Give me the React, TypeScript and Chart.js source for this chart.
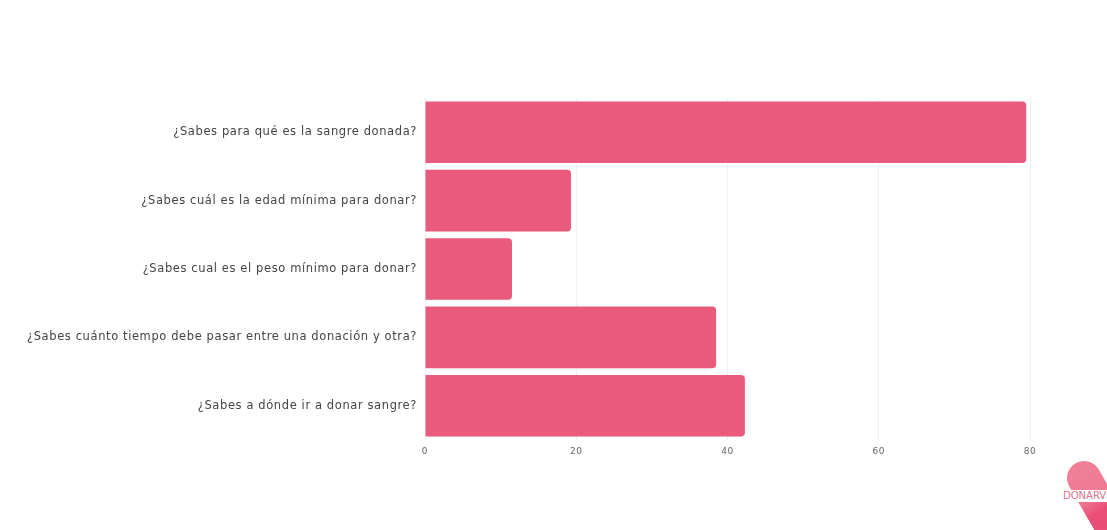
import React, { useEffect, useRef } from "react";
import { Chart, registerables } from "chart.js";

Chart.register(...registerables);

const categories = [
  "¿Sabes para qué es la sangre donada?",
  "¿Sabes cuál es la edad mínima para donar?",
  "¿Sabes cual es el peso mínimo para donar?",
  "¿Sabes cuánto tiempo debe pasar entre una donación y otra?",
  "¿Sabes a dónde ir a donar sangre?",
];
const values = [79.5, 19.3, 11.5, 38.5, 42.3];
const xTicks = [0, 20, 40, 60, 80];

const spacingPlugin = {
  id: "spacing",
  beforeUpdate(chart: any) {
    chart.ctx.letterSpacing = "0.6px";
  },
  beforeDraw(chart: any) {
    chart.ctx.letterSpacing = "0.6px";
  },
};

export default function App() {
  const ref = useRef<HTMLCanvasElement | null>(null);

  useEffect(() => {
    document.body.style.margin = "0";
    const canvas = ref.current;
    if (!canvas) return;
    const chart = new Chart(canvas, {
      type: "bar",
      plugins: [spacingPlugin],
      data: {
        labels: categories,
        datasets: [
          {
            data: values,
            backgroundColor: "#E95A7D",
            borderRadius: 4,
            borderSkipped: "start",
            barPercentage: 0.9,
            categoryPercentage: 1,
          },
        ],
      },
      options: {
        indexAxis: "y",
        animation: false,
        responsive: true,
        maintainAspectRatio: false,
        layout: { padding: { left: 0, right: 77, top: 98, bottom: 50 } },
        plugins: { legend: { display: false }, tooltip: { enabled: false } },
        scales: {
          x: {
            min: 0,
            max: 80,
            afterBuildTicks: (scale: any) => {
              scale.ticks = xTicks.map((v) => ({ value: v }));
            },
            afterFit: (scale: any) => {
              scale.height = 40;
            },
            grid: { color: "#efefef", drawTicks: false },
            border: { display: false },
            ticks: {
              padding: 6,
              color: "#666",
              font: { family: "DejaVu Sans", size: 9 },
            },
          },
          y: {
            afterFit: (scale: any) => {
              scale.width = 425;
            },
            grid: { display: false, drawTicks: false },
            border: { display: false },
            ticks: {
              padding: 8,
              color: "#444",
              font: { family: "DejaVu Sans", size: 11.5 },
            },
          },
        },
      },
    });
    return () => chart.destroy();
  }, []);

  return (
    <div style={{ position: "relative", width: 1107, height: 530, overflow: "hidden", background: "#fff" }}>
      <canvas ref={ref} />
      <div
        style={{
          position: "absolute",
          left: 1067,
          top: 461,
          width: 34,
          height: 120,
          borderRadius: 17,
          background: "linear-gradient(180deg, #F08097 0%, #EF7A93 30%, #E94E79 45%, #E84A76 100%)",
          transform: "rotate(-30deg)",
          transformOrigin: "17px 17px",
        }}
      />
      <div
        style={{
          position: "absolute",
          left: 1061,
          top: 490,
          height: 12,
          lineHeight: "12px",
          padding: "0 2px",
          background: "#fff",
          color: "#E0708E",
          fontFamily: "DejaVu Sans",
          fontSize: 10,
          whiteSpace: "nowrap",
        }}
      >
        DONARVIDA
      </div>
    </div>
  );
}
